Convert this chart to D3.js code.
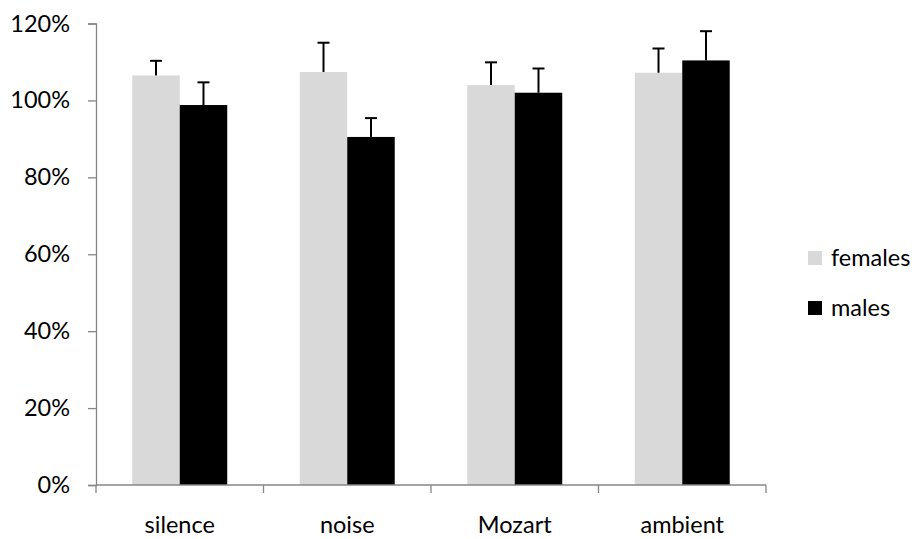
<!DOCTYPE html>
<html><head><meta charset="utf-8">
<script src="https://cdn.jsdelivr.net/npm/d3@7"></script>
<style>html,body{margin:0;padding:0;background:#fff;}svg{display:block;}</style>
</head><body>
<svg id="chart" width="916" height="539"></svg>
<script>
const categories = ["silence", "noise", "Mozart", "ambient"];
const seriesNames = ["females", "males"];
const females = [106.5, 107.4, 104.0, 107.2];
const males = [98.8, 90.5, 102.0, 110.4];
const femalesErr = [3.8, 7.6, 5.9, 6.3];
const malesErr = [5.9, 4.9, 6.3, 7.6];
const yTicks = [0, 20, 40, 60, 80, 100, 120];

(function () {
const colors = {females: "#d9d9d9", males: "#000000"};
const font = "Lato, 'Open Sans', sans-serif";
const fs = 23.5;
const svg = d3.select("#chart");
const mLeft = 96, mRight = 766, mTop = 23.5, mBottom = 485;

const x = d3.scaleBand().domain(categories).range([mLeft, mRight]).paddingInner(0.433).paddingOuter(0.2165);
const xs = d3.scaleBand().domain(seriesNames).range([0, x.bandwidth()]);
const y = d3.scaleLinear().domain([0, 120]).range([mBottom, mTop]);

const data = categories.map((c, i) => ({cat: c, vals: [
  {s: "females", v: females[i], e: femalesErr[i]},
  {s: "males", v: males[i], e: malesErr[i]}]}));

const g = svg.selectAll("g.grp").data(data).join("g").attr("class", "grp")
  .attr("transform", d => `translate(${x(d.cat)},0)`);
g.selectAll("rect").data(d => d.vals).join("rect")
  .attr("x", d => xs(d.s)).attr("width", xs.bandwidth())
  .attr("y", d => y(d.v)).attr("height", d => y(0) - y(d.v))
  .attr("fill", d => colors[d.s]);
g.selectAll("line.err").data(d => d.vals).join("line").attr("class", "err")
  .attr("x1", d => xs(d.s) + xs.bandwidth() / 2).attr("x2", d => xs(d.s) + xs.bandwidth() / 2)
  .attr("y1", d => y(d.v)).attr("y2", d => y(d.v + d.e))
  .attr("stroke", "#000").attr("stroke-width", 2);
g.selectAll("line.cap").data(d => d.vals).join("line").attr("class", "cap")
  .attr("x1", d => xs(d.s) + xs.bandwidth() / 2 - 6).attr("x2", d => xs(d.s) + xs.bandwidth() / 2 + 6)
  .attr("y1", d => y(d.v + d.e)).attr("y2", d => y(d.v + d.e))
  .attr("stroke", "#000").attr("stroke-width", 2);

const yAxis = d3.axisLeft(y).tickValues(yTicks).tickFormat(d => d + "%").tickSize(8).tickPadding(18);
const ya = svg.append("g").attr("transform", `translate(${mLeft},0)`).call(yAxis);
ya.select(".domain").attr("stroke", "#868686").attr("stroke-width", 1.3);
ya.selectAll(".tick line").attr("stroke", "#868686").attr("stroke-width", 1.3);
ya.selectAll(".tick text").attr("font-family", font).attr("font-size", fs).attr("fill", "#000");

const xa = svg.append("g").attr("transform", `translate(0,${mBottom})`);
xa.append("line").attr("x1", mLeft).attr("x2", mRight).attr("stroke", "#868686").attr("stroke-width", 1.3);
const edges = categories.map(c => x(c) - x.step() * x.paddingInner() / 2).concat([mRight]);
xa.selectAll("line.t").data(edges).join("line").attr("class", "t")
  .attr("x1", d => d).attr("x2", d => d).attr("y1", 0).attr("y2", 8)
  .attr("stroke", "#868686").attr("stroke-width", 1.3);
xa.selectAll("text").data(categories).join("text")
  .attr("x", d => x(d) + x.bandwidth() / 2).attr("y", 48)
  .attr("text-anchor", "middle").attr("font-family", font).attr("font-size", fs).text(d => d);

const lg = svg.append("g");
const ly = d3.scalePoint().domain(seriesNames).range([258, 308]);
lg.selectAll("rect").data(seriesNames).join("rect")
  .attr("x", 808).attr("y", d => ly(d) - 7).attr("width", 14).attr("height", 14)
  .attr("fill", d => colors[d]);
lg.selectAll("text").data(seriesNames).join("text")
  .attr("x", 831).attr("y", d => ly(d) + 8).attr("font-family", font).attr("font-size", fs).text(d => d);
})();
</script>
</body></html>
